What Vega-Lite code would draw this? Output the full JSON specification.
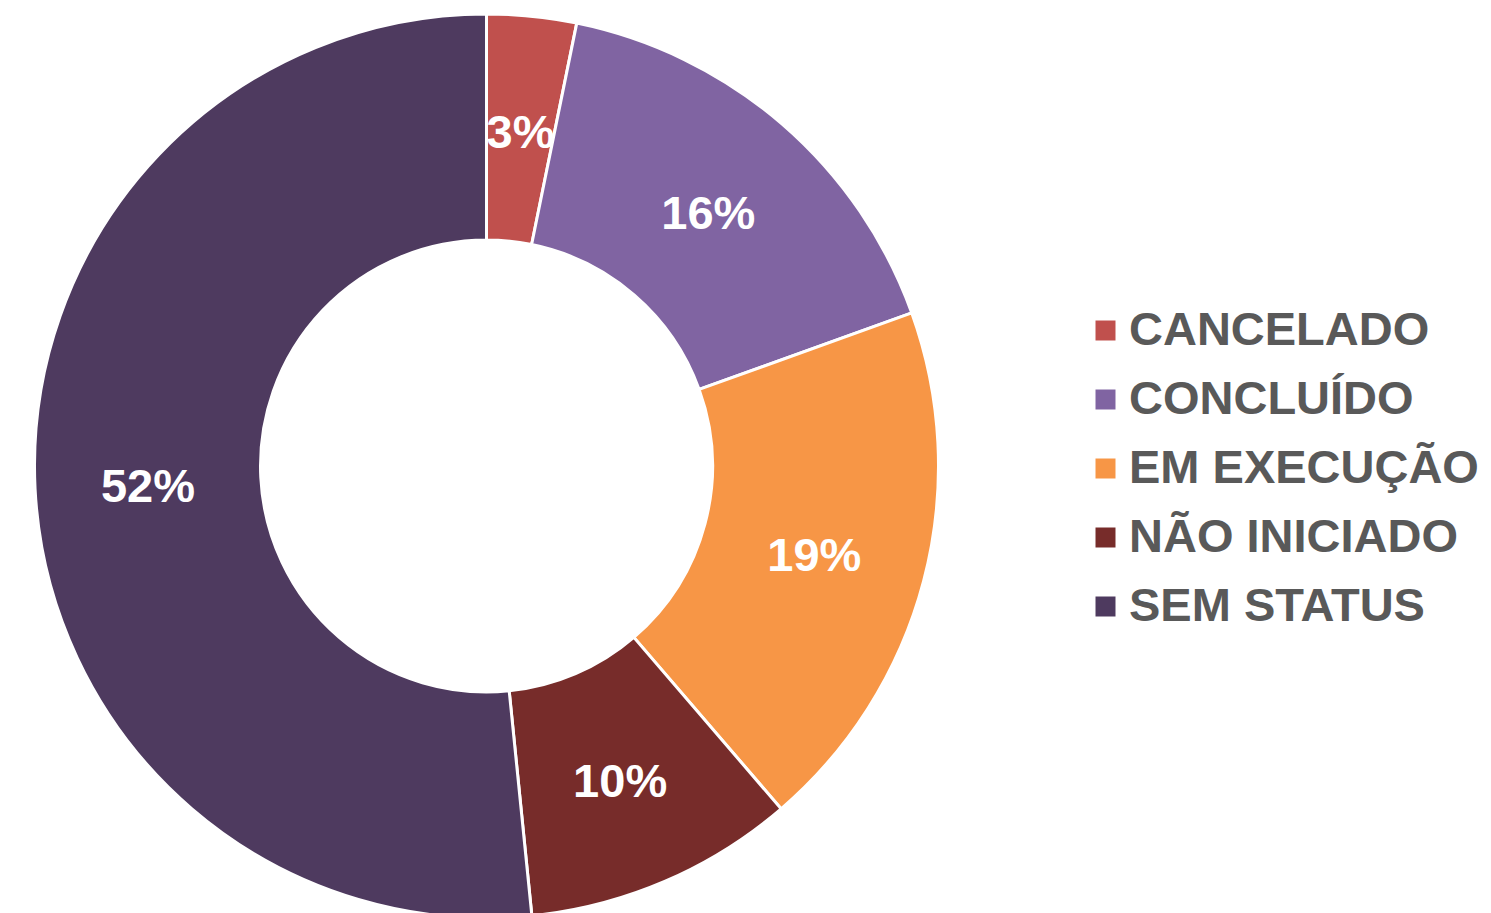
{
  "$schema": "https://vega.github.io/schema/vega-lite/v6.json",
  "autosize": {"type": "none"},
  "width": 973,
  "height": 894,
  "padding": {"left": 0, "top": 19, "right": 518, "bottom": 0},
  "background": "white",
  "config": {"view": {"stroke": null}, "font": "Liberation Sans"},
  "data": {
    "values": [
      {"status": "CANCELADO", "share": 0.032},
      {"status": "CONCLUÍDO", "share": 0.163},
      {"status": "EM EXECUÇÃO", "share": 0.192},
      {"status": "NÃO INICIADO", "share": 0.097},
      {"status": "SEM STATUS", "share": 0.516}
    ]
  },
  "encoding": {
    "theta": {"field": "share", "type": "quantitative", "stack": true},
    "order": {"field": "status", "sort": "ascending"}
  },
  "layer": [
    {
      "mark": {"type": "arc", "innerRadius": 226, "outerRadius": 452, "stroke": "white", "strokeWidth": 3},
      "encoding": {
        "color": {
          "field": "status",
          "type": "nominal",
          "sort": ["CANCELADO", "CONCLUÍDO", "EM EXECUÇÃO", "NÃO INICIADO", "SEM STATUS"],
          "scale": {
            "domain": ["CANCELADO", "CONCLUÍDO", "EM EXECUÇÃO", "NÃO INICIADO", "SEM STATUS"],
            "range": ["#C0504D", "#8064A2", "#F79646", "#772C2A", "#4E3A5F"]
          },
          "legend": {
            "title": null,
            "orient": "none",
            "legendX": 1082,
            "legendY": 288,
            "padding": 0,
            "symbolType": "square",
            "symbolSize": 400,
            "symbolStrokeWidth": 0,
            "labelFont": "Liberation Sans",
            "labelFontSize": 47,
            "labelFontWeight": "bold",
            "labelColor": "#595959",
            "labelOffset": 0,
            "labelLimit": 600,
            "rowPadding": 21
          }
        }
      }
    },
    {
      "mark": {"type": "text", "radius": 339, "dy": 5, "font": "Liberation Sans", "fontSize": 47, "fontWeight": "bold", "color": "white", "align": "center", "baseline": "middle"},
      "encoding": {
        "text": {"field": "share", "type": "quantitative", "format": ".0%"}
      }
    }
  ]
}
